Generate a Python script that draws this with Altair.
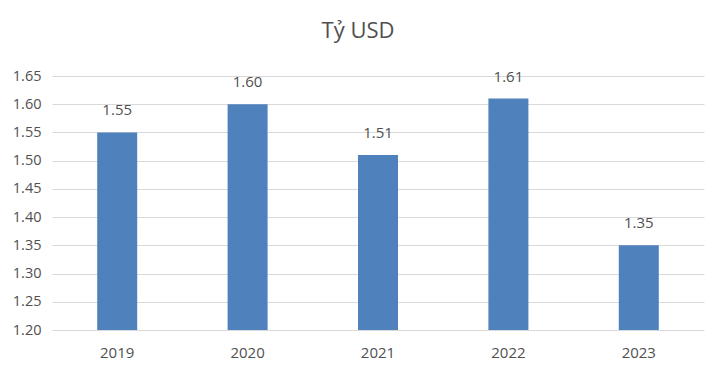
import altair as alt
import pandas as pd

years = ["2019", "2020", "2021", "2022", "2023"]
values = [1.55, 1.60, 1.51, 1.61, 1.35]
labels = ["1.55", "1.60", "1.51", "1.61", "1.35"]
ticks = [1.20, 1.25, 1.30, 1.35, 1.40, 1.45, 1.50, 1.55, 1.60, 1.65]

df = pd.DataFrame({"year": years, "value": values, "label": labels})

FONT = "Open Sans"
TXT = "#505050"

yenc = alt.Y("value:Q", title=None,
             scale=alt.Scale(domain=[1.20, 1.65], zero=False, nice=False, clamp=True),
             axis=alt.Axis(values=ticks, format=".2f", domain=False, ticks=False,
                           labelPadding=11, labelOverlap=False, tickCount=10,
                           gridColor="#D9D9D9", gridWidth=1.2,
                           labelFont=FONT, labelFontSize=14.5, labelColor=TXT))

base = alt.Chart(df).encode(
    x=alt.X("year:N", sort=years, title=None,
            scale=alt.Scale(paddingInner=0, paddingOuter=0),
            axis=alt.Axis(labelAngle=0, domain=False, ticks=False, labelPadding=15,
                          labelFont=FONT, labelFontSize=15, labelColor=TXT)),
    y=yenc,
)

bars = base.mark_bar(color="#4F81BD", size=40).encode(
    y2=alt.datum(1.20),
)

text = base.mark_text(dy=-22, baseline="middle", font=FONT, fontSize=15, color=TXT).encode(
    text="label:N",
)

chart = (bars + text).properties(
    width=652,
    height=254,
    autosize=alt.AutoSizeParams(type="none"),
    padding={"left": 52, "top": 76, "right": 16, "bottom": 43},
    title=alt.TitleParams("Tỷ USD", font=FONT, fontSize=22, fontWeight="normal",
                          color=TXT, anchor="middle", dx=-20, offset=25),
).configure_view(stroke=None)

chart.save("out.html", embed_options={"renderer": "svg", "actions": False})
